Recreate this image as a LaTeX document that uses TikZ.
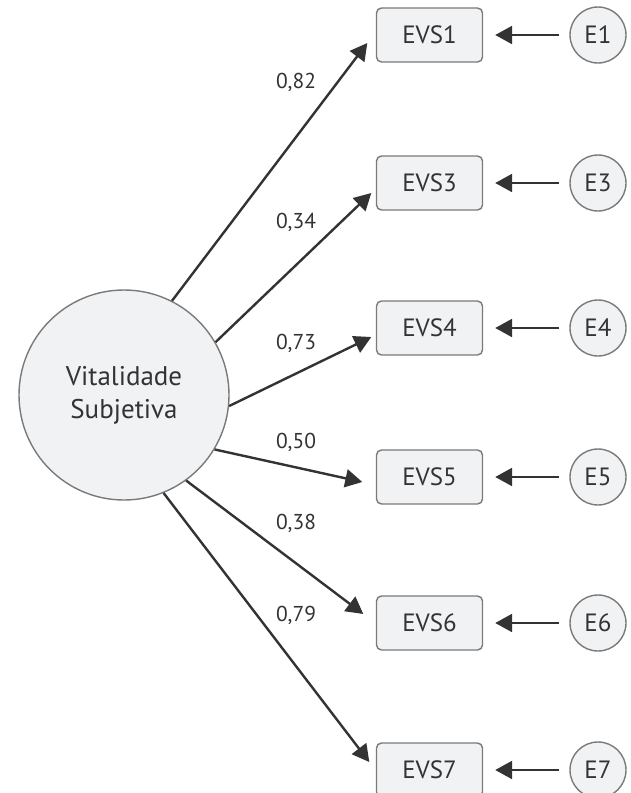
\documentclass[tikz,border=0pt]{standalone}
\usepackage{fontspec}
\setmainfont{PT Sans}
\usetikzlibrary{arrows.meta}
\definecolor{fillg}{HTML}{F1F2F4}
\definecolor{edgeg}{HTML}{7A7A7A}
\definecolor{ink}{HTML}{333333}
\tikzset{
  latent/.style={circle,draw=edgeg,fill=fillg,line width=1.4pt,minimum size=210pt,inner sep=0pt,align=center,text=ink,font=\fontsize{27}{33}\selectfont},
  obs/.style={rectangle,rounded corners=5pt,draw=edgeg,fill=fillg,line width=1.4pt,minimum width=106pt,minimum height=54pt,inner sep=0pt,text=ink,font=\fontsize{25}{28}\selectfont},
  err/.style={circle,draw=edgeg,fill=fillg,line width=1.4pt,minimum size=56pt,inner sep=0pt,text=ink,font=\fontsize{25}{28}\selectfont},
  path/.style={draw=ink,line width=2.4pt,-{Triangle[length=17pt,width=18pt]}},
  lbl/.style={text=ink,font=\fontsize{21.5}{24}\selectfont,inner sep=0pt}
}
\begin{document}
\begin{tikzpicture}[x=1pt,y=1pt]
\useasboundingbox (0,0) rectangle (630,-793);
\node[latent] (V) at (124,-395) {Vitalidade\\Subjetiva};
\foreach \n/\y in {1/35,3/183,4/328,5/477,6/623,7/770}{
  \node[obs] (b\n) at (429.5,-\y) {EVS\n};
  \node[err] (e\n) at (598,-\y) {E\n};
  \draw[path,shorten <=10pt,shorten >=12pt] (e\n) -- (b\n);
}
\draw[path] (V.63)   -- ([xshift=-8.5pt,yshift=-8pt]b1.west);
\draw[path] (V.30)   -- ([xshift=-4.5pt,yshift=-10pt]b3.west);
\draw[path] (V.-6)   -- ([xshift=-4.5pt,yshift=-9pt]b4.west);
\draw[path] (V.-31)  -- ([xshift=-13.5pt,yshift=-5pt]b5.west);
\draw[path] (V.-54)  -- ([xshift=-12.5pt,yshift=9pt]b6.west);
\draw[path] (V.-68.5) -- ([xshift=-6.5pt,yshift=8pt]b7.west);
\node[lbl] (l1) at (296,-82) {0,82};
\node[lbl] (l3) at (296,-222) {0,34};
\node[lbl] (l4) at (296,-343) {0,73};
\node[lbl] (l5) at (296,-442) {0,50};
\node[lbl] (l6) at (296,-523) {0,38};
\node[lbl] (l7) at (296,-615) {0,79};
\end{tikzpicture}
\end{document}
